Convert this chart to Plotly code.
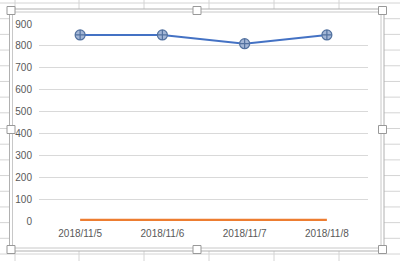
import plotly.graph_objects as go

categories = ["2018/11/5", "2018/11/6", "2018/11/7", "2018/11/8"]
series_blue = [850, 850, 810, 850]
series_orange = [5, 5, 5, 5]
y_ticks = [0, 100, 200, 300, 400, 500, 600, 700, 800, 900]

W, H = 400, 261
L, R, T, B = 39, 368, 24, 221  # plot area in pixels

def px(x):
    return (x - L) / (R - L)

def py(y):
    return 1 - (y - T) / (B - T)

FONT = "Liberation Sans, Arial, sans-serif"
GRID = "#d9d9d9"
SHEET = "#d4d4d4"

fig = go.Figure()
fig.add_trace(go.Scatter(
    x=categories, y=series_orange, mode="lines",
    line=dict(color="#ED7D31", width=2.5), showlegend=False))
fig.add_trace(go.Scatter(
    x=categories, y=series_blue, mode="lines+markers",
    line=dict(color="#4472C4", width=2),
    marker=dict(symbol="circle-cross", size=10, color="#a3b6d6",
                line=dict(color="#52719f", width=1.2)),
    showlegend=False))

shapes = []
# spreadsheet row lines
for k in range(17):
    y = 3 + k * 251 / 16
    shapes.append(dict(type="line", xref="paper", yref="paper",
                       x0=px(0), x1=px(W), y0=py(y), y1=py(y),
                       line=dict(color=SHEET, width=1), layer="below"))
# spreadsheet column lines
for x in [15, 79, 144, 209, 274, 339]:
    shapes.append(dict(type="line", xref="paper", yref="paper",
                       x0=px(x), x1=px(x), y0=py(0), y1=py(H),
                       line=dict(color=SHEET, width=1), layer="below"))
# chart area (white) covering the grid
shapes.append(dict(type="rect", xref="paper", yref="paper",
                   x0=px(9.5), x1=px(384), y0=py(9), y1=py(251),
                   fillcolor="white", line=dict(color="#b0b0b0", width=1),
                   layer="below"))
shapes.append(dict(type="rect", xref="paper", yref="paper",
                   x0=px(12.5), x1=px(381), y0=py(12), y1=py(248),
                   fillcolor="white", line=dict(color="#c8c8c8", width=1),
                   layer="below"))
# selection handles
for (hx, hy) in [(11, 10.5), (197, 10.5), (382.5, 10.5),
                 (11, 129.5), (382.5, 129.5),
                 (11, 249.5), (197, 249.5), (382.5, 249.5)]:
    shapes.append(dict(type="rect", xref="paper", yref="paper",
                       x0=px(hx - 4), x1=px(hx + 4), y0=py(hy - 4), y1=py(hy + 4),
                       fillcolor="white", line=dict(color="#999999", width=1),
                       layer="above"))

fig.update_layout(
    width=W, height=H,
    margin=dict(l=L, r=W - R, t=T, b=H - B),
    paper_bgcolor="white", plot_bgcolor="rgba(0,0,0,0)",
    shapes=shapes,
    font=dict(family=FONT, size=10, color="#595959"),
    xaxis=dict(type="category", range=[-0.5, 3.5], showgrid=False,
               zeroline=False, showline=False, ticks="",
               ticklabelstandoff=5, tickfont=dict(size=10, color="#595959")),
    yaxis=dict(range=[0, 900], tickvals=y_ticks, showgrid=True,
               gridcolor=GRID, gridwidth=1, zeroline=False, showline=False,
               ticks="", ticklabelstandoff=6,
               tickfont=dict(size=10, color="#595959")),
)

fig.write_html("out.html")
